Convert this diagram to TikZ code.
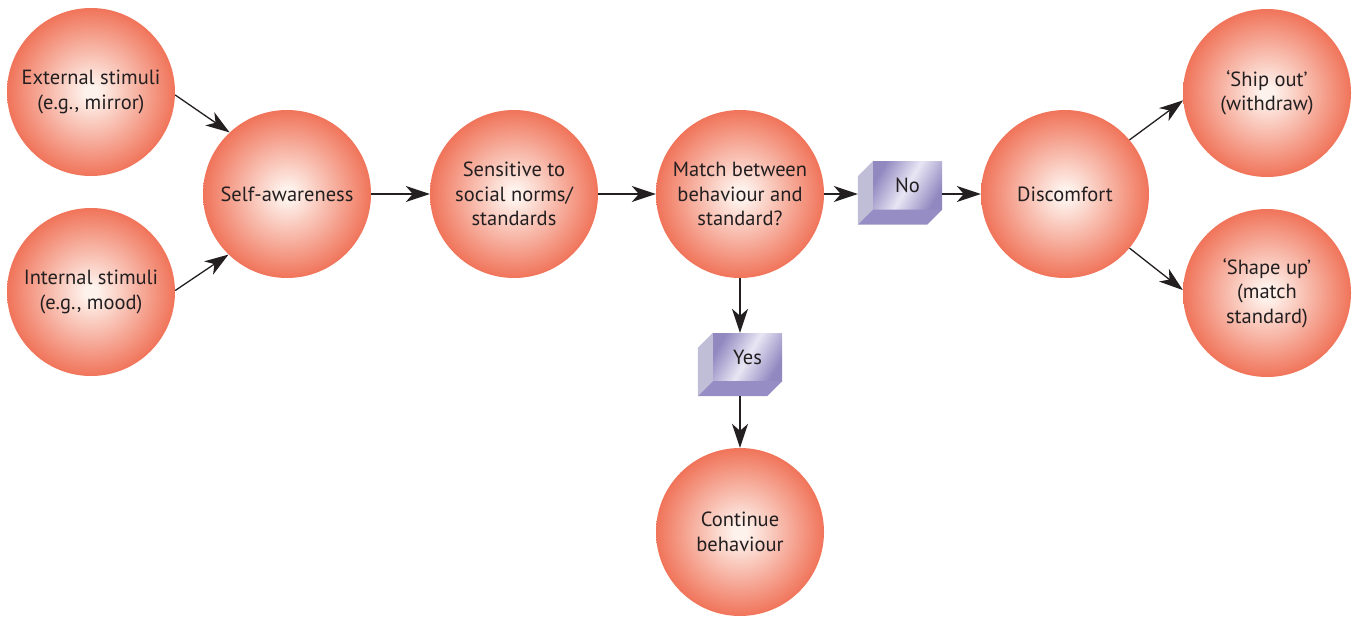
\documentclass[tikz,border=0pt]{standalone}
\usepackage{fontspec}
\setmainfont{PT Sans}
\usepackage{tikz}
\usepackage{xcolor}
\usetikzlibrary{arrows.meta, shadings}
\definecolor{ballred}{RGB}{240, 116, 90}
\definecolor{ballpale}{RGB}{254, 242, 236}
\definecolor{inkgray}{RGB}{35, 31, 32}
\definecolor{boxlav}{RGB}{146, 136, 192}
\definecolor{boxlight}{RGB}{232, 230, 244}
\definecolor{boxside}{RGB}{192, 189, 214}
\definecolor{boxbase}{RGB}{150, 141, 196}
\pgfdeclareradialshading{ballshade}{\pgfpoint{0bp}{0bp}}{%
  color(0bp)=(ballpale); color(2bp)=(ballpale); color(25bp)=(ballred); color(50bp)=(ballred)}
\tikzset{
    ball/.style={circle, minimum size=168pt, inner sep=0pt, shading=ballshade, align=center,
                 text=inkgray, font=\fontsize{20.5}{24.5}\selectfont},
    choice/.style={rectangle, minimum width=69pt, minimum height=48pt, inner sep=0pt,
                   shade, left color=boxlav, right color=boxlav, middle color=boxlight,
                   shading angle=60, text=inkgray, font=\fontsize{20.5}{24.5}\selectfont},
    sideface/.style={fill=boxside},
    baseface/.style={fill=boxbase},
    link/.style={draw=inkgray, line width=1.3pt, -{Stealth[length=24pt, width=16pt, inset=7pt]}}
}

\begin{document}
\begin{tikzpicture}[x=1pt, y=-1pt]
    \useasboundingbox (0,0) rectangle (1356,616);
    % circles
    \node[ball] (ext) at (91,92) {External stimuli\\(e.g., mirror)};
    \node[ball] (int) at (91,292) {Internal stimuli\\(e.g., mood)};
    \node[ball] (self) at (287,194) {Self-awareness};
    \node[ball] (norms) at (514,194) {Sensitive to\\social norms/\\standards};
    \node[ball] (match) at (740,194) {Match between\\behaviour and\\standard?};
    \node[ball] (disc) at (1065,194) {Discomfort};
    \node[ball] (ship) at (1267,93) {‘Ship out’\\(withdraw)};
    \node[ball] (shape) at (1267,293) {‘Shape up’\\(match\\standard)};
    \node[ball] (cont) at (740,532) {Continue\\behaviour};
    % decision boxes
    \node[choice] (no) at (907.5,185.5) {No};
    \fill[sideface] (no.north west) -- ([shift={(-15,15)}]no.north west)
        -- ([shift={(-15,15)}]no.south west) -- (no.south west) -- cycle;
    \fill[baseface] (no.south west) -- ([shift={(-15,15)}]no.south west)
        -- ([shift={(-15,15)}]no.south east) -- (no.south east) -- cycle;
    \node[choice] (yes) at (747.5,357) {Yes};
    \fill[sideface] (yes.north west) -- ([shift={(-15,15)}]yes.north west)
        -- ([shift={(-15,15)}]yes.south west) -- (yes.south west) -- cycle;
    \fill[baseface] (yes.south west) -- ([shift={(-15,15)}]yes.south west)
        -- ([shift={(-15,15)}]yes.south east) -- (yes.south east) -- cycle;
    \coordinate (noside) at ([shift={(-15,0)}]no.west);
    \coordinate (yesbase) at ([shift={(-7,15)}]yes.south);
    % arrows
    \draw[link] (ext.-2) -- (self.133);
    \draw[link] (int.1) -- (self.226);
    \draw[link] (self) -- (norms);
    \draw[link] (norms) -- (match);
    \draw[link] (match.east) -- (noside |- match.east);
    \draw[link] (no.east |- match.east) -- (disc.west);
    \draw[link] (disc.40) -- (ship.185);
    \draw[link] (disc.-40) -- (shape.178);
    \draw[link] (match.south) -- (match.south |- yes.north);
    \draw[link] (match.south |- yesbase) -- (cont.north);
\end{tikzpicture}
\end{document}
